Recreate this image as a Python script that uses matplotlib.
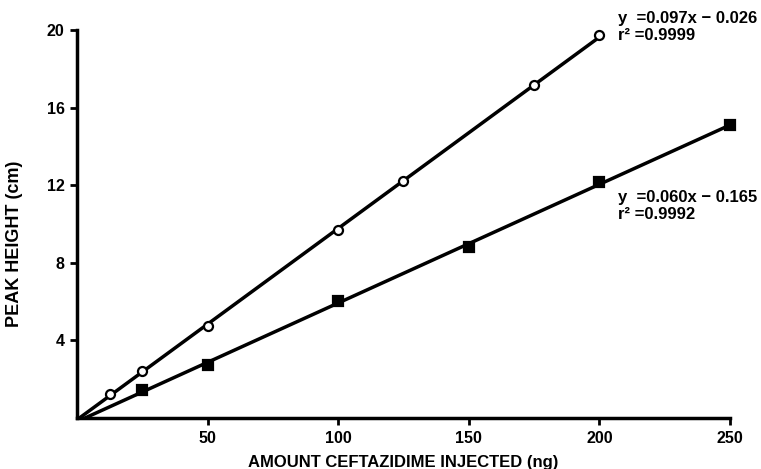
#!/usr/bin/env python3
"""
Ceftazidime calibration: peak height vs amount injected
"""
import matplotlib
matplotlib.use("Agg")
import matplotlib.pyplot as plt
import numpy as np

plt.rcParams.update({
    "font.family": ["Liberation Sans", "DejaVu Sans"],
    "font.weight": "bold",
    "font.size": 11,
})

# -- data --
x_open = [12.5, 25, 50, 100, 125, 175, 200]
y_open = [1.24, 2.41, 4.76, 9.69, 12.2, 17.16, 19.73]

x_filled = [25, 50, 100, 150, 200, 250]
y_filled = [1.46, 2.72, 6.03, 8.83, 12.15, 15.1]

x_ticks = [50, 100, 150, 200, 250]
y_ticks = [4, 8, 12, 16, 20]

eq_open = "y  =0.097x \u2212 0.026\nr\u00b2 =0.9999"
eq_filled = "y  =0.060x \u2212 0.165\nr\u00b2 =0.9992"

fig = plt.figure(figsize=(7.61, 4.69), dpi=100)
ax = fig.add_axes([0.1012, 0.1087, 0.858, 0.827])

for xs, ys, fill in [(x_open, y_open, "white"), (x_filled, y_filled, "black")]:
    k, b = np.polyfit(xs, ys, 1)
    xx = np.array([0, max(xs)])
    ax.plot(xx, k * xx + b, color="black", lw=2.5, zorder=2)
    ax.plot(xs, ys, ls="none", marker="o" if fill == "white" else "s",
            ms=6.5, mfc=fill, mec="black", mew=1.6, zorder=3, clip_on=False)

ax.text(207, 20.15, eq_open, fontsize=12, fontweight="bold", ha="left",
        va="center", linespacing=1.15, clip_on=False)
ax.text(207, 10.93, eq_filled, fontsize=12, fontweight="bold", ha="left",
        va="center", linespacing=1.15, clip_on=False)

ax.set_xlim(0, 250)
ax.set_ylim(0, 20)
ax.set_xticks(x_ticks)
ax.set_yticks(y_ticks)
ax.tick_params(direction="out", length=5, width=2, labelsize=11.5, pad=4)
for lab in ax.get_xticklabels() + ax.get_yticklabels():
    lab.set_fontweight("bold")

for s in ["top", "right"]:
    ax.spines[s].set_visible(False)
for s in ["left", "bottom"]:
    ax.spines[s].set_linewidth(2.5)

ax.set_xlabel("AMOUNT CEFTAZIDIME INJECTED (ng)", fontsize=12, fontweight="bold",
              labelpad=7)
ax.set_ylabel("PEAK HEIGHT (cm)", fontsize=13, fontweight="bold")
ax.yaxis.set_label_coords(-0.082, 0.45)

fig.savefig("out.png", dpi=100)
